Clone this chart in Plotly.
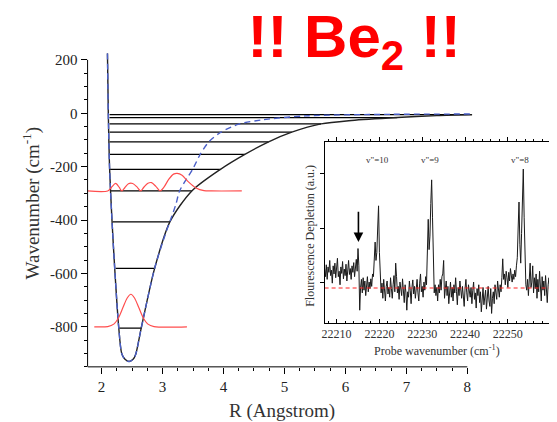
import plotly.graph_objects as go

# ---------------- main panel data (R in Angstrom, energy in cm^-1) ----------------
pot_R = [2.096, 2.11, 2.13, 2.17, 2.22, 2.28, 2.33, 2.38, 2.45, 2.52, 2.56, 2.65,
         2.87, 3.12, 3.48, 3.95, 4.35, 4.74, 5.12, 5.60, 6.10, 6.85, 7.50, 8.08]
pot_E = [225, 0, -200, -400, -600, -800, -900, -921, -930, -921, -903, -805,
         -581, -407, -291, -210, -154, -107, -71, -40, -27, -16, -9, -5]

fit_R = [2.096, 2.11, 2.13, 2.17, 2.22, 2.28, 2.33, 2.38, 2.45, 2.52, 2.56, 2.65,
         2.87, 3.05, 3.13, 3.22, 3.28, 3.50, 3.62, 3.76, 3.95, 4.25, 4.63, 5.33, 6.75, 8.08]
fit_E = [225, 0, -200, -400, -600, -800, -900, -921, -930, -921, -903, -805,
         -581, -450, -400, -340, -291, -207, -153, -107, -72, -41, -25, -10, -4, -3]

level_E = [-805, -581, -407, -291, -210, -154, -107, -71, -40, -16, -5]
level_left = [2.29, 2.23, 2.18, 2.15, 2.14, 2.13, 2.13, 2.13, 2.13, 2.13, 2.13]
level_right = [2.65, 2.87, 3.12, 3.48, 3.95, 4.35, 4.74, 5.12, 5.60, 6.85, 8.08]

wf0_R = [1.88, 2.10, 2.20, 2.28, 2.35, 2.42, 2.48, 2.54, 2.61, 2.68, 2.76, 2.86, 3.40]
wf0_E = [-800, -799, -790, -765, -728, -692, -678, -692, -728, -765, -790, -799, -800]

wf4_R = [1.77, 2.10, 2.16, 2.23, 2.29, 2.33, 2.38, 2.44, 2.51, 2.58, 2.64, 2.69, 2.76,
         2.82, 2.89, 2.96, 3.02, 3.10, 3.18, 3.24, 3.32, 3.42, 3.55, 3.68, 3.80, 4.30]
wf4_E = [-291, -291, -278, -263, -278, -291, -279, -264, -263, -276, -291, -278, -262,
         -260, -274, -291, -278, -248, -228, -225, -232, -256, -280, -290, -291, -291]

main_xticks = [2, 3, 4, 5, 6, 7, 8]
main_yticks = [200, 0, -200, -400, -600, -800]
main_yticktext = ["200", "0", "-200", "-400", "-600", "-800"]

# ---------------- inset data (probe wavenumber, arbitrary units) ----------------
spec_x0 = 22207.2
spec_dx = 0.2
spec_y = [
    0.25, 0.10, 0.32, 0.05, 0.28, 0.18, 0.40, 0.12, 0.22, -0.02,
    0.30, 0.15, 0.35, 0.08, 0.26, 0.44, 0.10, 0.20, -0.05, 0.28,
    0.16, 0.38, 0.06, 0.24, 0.12, 0.33, 0.02, 0.22, 0.40, 0.14,
    0.25, 0.05, 0.30, 0.18, 0.36, 0.10, 0.24, 0.42, 0.20,
    0.62, 0.30, -0.52, -0.10, 0.05, -0.20, 0.08, -0.15, 0.02, -0.25,
    -0.05, 0.10, -0.18, 0.00, -0.12, 0.06, -0.08, 0.15, 0.10, 0.35,
    0.74, 0.40, 0.55, 1.00, 1.41, 0.55, -0.05,
    -0.20, -0.02, -0.30, 0.05, -0.15, -0.35, -0.08, 0.02, -0.22, -0.10,
    -0.28, 0.08, -0.12, -0.30, -0.05, 0.12, -0.18, 0.35, 0.10, -0.20,
    -0.08, -0.32, 0.00, -0.15, -0.25, 0.06, -0.12, -0.38, -0.05, -0.20,
    -0.52, -0.18, -0.28, 0.02, -0.15, -0.40, -0.10, 0.04, -0.22, -0.08,
    -0.30, -0.12, 0.05, -0.20, -0.35, -0.02, 0.15, -0.18, -0.08, -0.28,
    0.00, -0.15, 0.10, -0.05,
    0.40, 1.16, 0.60, 0.85, 1.45, 1.89, 1.20, 0.20, -0.20, -0.05,
    -0.25, -0.10, -0.35, -0.05, -0.20, 0.05, -0.15, 0.10, 0.15, 0.40,
    -0.30, -0.12, 0.02, -0.25, -0.08, -0.40, -0.15, 0.00, -0.28, -0.10,
    -0.35, -0.05, -0.20, 0.08, -0.18, -0.42, -0.10, -0.25, 0.02, -0.15,
    -0.30, -0.08, -0.22, -0.45, -0.12, 0.05, -0.20, -0.35, -0.05, -0.18,
    -0.28, -0.10, -0.40, -0.15, 0.00, -0.32, -0.20, -0.48, -0.12, -0.25,
    -0.05, -0.38, -0.18, -0.55, -0.22, -0.10, -0.42, -0.28, -0.15, -0.50,
    -0.25, -0.08, -0.35, -0.45, -0.12, -0.58, -0.30, -0.18, -0.40, -0.05,
    -0.20, -0.32, 0.02, -0.15, -0.28, -0.05, -0.18, 0.08, 0.43, 0.05,
    0.15, -0.05, 0.20, 0.08, -0.10, 0.18, 0.02, 0.25, 0.10, 0.00,
    0.15, 0.05, 0.22, 0.10, 0.30,
    0.45, 1.00, 1.48, 0.70, 0.35, 0.90, 1.60, 2.09, 1.20, 0.30, -0.05,
    -0.15, 0.05, -0.25, 0.10, 0.35, -0.10, 0.00, 0.30, -0.20, 0.08,
    -0.12, 0.15, -0.30, 0.05, -0.18, 0.20, -0.08, -0.35, 0.10, -0.15,
    0.02, -0.25, 0.12, -0.10, -0.38, -0.05, 0.08, -0.20, -0.45,
]
spec_x = [round(spec_x0 + spec_dx * i, 2) for i in range(len(spec_y))]
baseline_y = -0.11
peak_labels = ['v"=10', 'v"=9', 'v"=8']
peak_label_x = [22219.5, 22231.8, 22252.9]
arrow_x = 22215.1
inset_xticks = [22210, 22220, 22230, 22240, 22250, 22260]
inset_yticks = [0, 1, 2]
inset_xrange = [22207.2, 22260.02]

title_text = "<b>!! Be<sub>2</sub> !!</b>"

# page body has an 8px margin: convert window pixels to paper fractions
W, H, OFF = 557, 422, 8


def fx(px):
    return (px - OFF) / W


def fy(py):
    return 1 - (py - OFF) / H


SERIF = "Liberation Serif"
fig = go.Figure()

lx, ly = [], []
for e, a, b in zip(level_E, level_left, level_right):
    lx += [a, b, None]
    ly += [e, e, None]
fig.add_trace(go.Scatter(x=lx, y=ly, mode="lines", line=dict(color="black", width=1.2),
                         xaxis="x", yaxis="y", hoverinfo="skip"))
fig.add_trace(go.Scatter(x=pot_R, y=pot_E, mode="lines", line=dict(color="#222", width=1.4, shape="spline", smoothing=0.8),
                         xaxis="x", yaxis="y", hoverinfo="skip"))
fig.add_trace(go.Scatter(x=fit_R, y=fit_E, mode="lines", line=dict(color="#4a5fc8", width=1.4, dash="6px,4px", shape="spline", smoothing=0.8),
                         xaxis="x", yaxis="y", hoverinfo="skip"))
fig.add_trace(go.Scatter(x=wf0_R, y=wf0_E, mode="lines", line=dict(color="#ff4d4d", width=1.2, shape="spline", smoothing=0.8),
                         xaxis="x", yaxis="y", hoverinfo="skip"))
fig.add_trace(go.Scatter(x=wf4_R, y=wf4_E, mode="lines", line=dict(color="#ff4d4d", width=1.2, shape="spline", smoothing=0.8),
                         xaxis="x", yaxis="y", hoverinfo="skip"))

fig.add_trace(go.Scatter(x=spec_x, y=spec_y, mode="lines", line=dict(color="#1a1a1a", width=1),
                         xaxis="x2", yaxis="y2", hoverinfo="skip"))
fig.add_trace(go.Scatter(x=[spec_x[0], spec_x[-1]], y=[baseline_y, baseline_y], mode="lines",
                         line=dict(color="#ff2020", width=1.2, dash="4px,3px"),
                         xaxis="x3", yaxis="y2", hoverinfo="skip"))

# headline drawn on a hidden full-page overlay axis (window-pixel units)
fig.add_trace(go.Scatter(x=[353], y=[41], mode="text", text=[title_text], textposition="middle center",
                         textfont=dict(family="Liberation Sans", size=60, color="#ff0000"),
                         xaxis="x4", yaxis="y4", hoverinfo="skip", cliponaxis=False))

tickfont_main = dict(family=SERIF, size=15, color="#222")
tickfont_in = dict(family=SERIF, size=12, color="#333")

fig.update_layout(
    width=W, height=H, autosize=False,
    margin=dict(l=0, r=0, t=0, b=0),
    paper_bgcolor="white", plot_bgcolor="rgba(0,0,0,0)",
    showlegend=False,
    xaxis=dict(domain=[fx(85), fx(471.7)], range=[1.77, 8.08], anchor="y",
               showline=False, showgrid=False, zeroline=False,
               tickvals=main_xticks, ticks="outside", ticklen=6, tickcolor="black", tickwidth=1,
               tickfont=tickfont_main,
               minor=dict(dtick=0.25, tick0=2, ticks="outside", ticklen=3, tickcolor="black")),
    yaxis=dict(domain=[fy(366.7), fy(52.3)], range=[-950, 225], anchor="x",
               showline=False, showgrid=False, zeroline=False,
               tickvals=main_yticks, ticktext=main_yticktext, ticks="outside", ticklen=6,
               tickcolor="black", tickwidth=1, tickfont=tickfont_main,
               minor=dict(dtick=50, tick0=0, ticks="outside", ticklen=3, tickcolor="black")),
    xaxis2=dict(domain=[fx(323.3), fx(550.7)], range=inset_xrange, anchor="y2",
                showline=True, linecolor="black", linewidth=1, mirror=True,
                showgrid=False, zeroline=False,
                tickvals=inset_xticks, ticktext=[str(v) for v in inset_xticks],
                ticks="inside", ticklen=4, tickcolor="black", tickfont=tickfont_in,
                minor=dict(dtick=2, tick0=22210, ticks="inside", ticklen=2, tickcolor="black")),
    xaxis3=dict(overlaying="x2", side="top", anchor="y2", range=inset_xrange,
                showline=False, showgrid=False, zeroline=False, showticklabels=False,
                tickvals=inset_xticks, ticks="outside", ticklen=4, tickcolor="black",
                minor=dict(dtick=2, tick0=22210, ticks="outside", ticklen=2, tickcolor="black")),
    yaxis2=dict(domain=[fy(322.7), fy(141.5)], range=[-0.756, 2.587], anchor="x2",
                showline=True, linecolor="black", linewidth=1, mirror=True,
                showgrid=False, zeroline=False, showticklabels=False,
                tickvals=inset_yticks, ticks="outside", ticklen=4, tickcolor="black"),
    xaxis4=dict(domain=[0, 1], range=[OFF, OFF + W], anchor="y4", visible=False, fixedrange=True),
    yaxis4=dict(domain=[0, 1], range=[OFF + H, OFF], anchor="x4", visible=False, fixedrange=True),
)

fig.add_shape(type="line", xref="x domain", yref="y", x0=0, x1=0, y0=-950, y1=200,
              line=dict(color="black", width=1))
fig.add_shape(type="line", xref="x", yref="y domain", x0=1.77, x1=8, y0=0, y1=0,
              line=dict(color="black", width=1))

ann = []
ann.append(dict(text="Wavenumber (cm<sup>-1</sup>)", x=fx(29), y=fy(202), xref="paper", yref="paper",
                textangle=-90, showarrow=False, xanchor="center", yanchor="middle",
                font=dict(family=SERIF, size=19, color="#333")))
ann.append(dict(text="R (Angstrom)", x=fx(280), y=fy(411), xref="paper", yref="paper",
                showarrow=False, xanchor="center", yanchor="middle",
                font=dict(family=SERIF, size=19, color="#333")))
ann.append(dict(text="Probe wavenumber (cm<sup>-1</sup>)", x=fx(436), y=fy(350), xref="paper", yref="paper",
                showarrow=False, xanchor="center", yanchor="middle",
                font=dict(family=SERIF, size=12, color="#333")))
ann.append(dict(text="Flourescence Depletion (a.u.)", x=fx(309), y=fy(235), xref="paper", yref="paper",
                textangle=-90, showarrow=False, xanchor="center", yanchor="middle",
                font=dict(family=SERIF, size=12, color="#333")))
for t, px in zip(peak_labels, peak_label_x):
    ann.append(dict(text=t, x=px, y=2.26, xref="x2", yref="y2", showarrow=False,
                    xanchor="center", yanchor="middle", font=dict(family=SERIF, size=9, color="#333")))
ann.append(dict(text="", x=arrow_x, y=0.74, xref="x2", yref="y2", ax=arrow_x, ay=1.33,
                axref="x2", ayref="y2", showarrow=True, arrowhead=2, arrowsize=1.2,
                arrowwidth=1.6, arrowcolor="black"))
fig.update_layout(annotations=ann)

fig.write_html("out.html")
